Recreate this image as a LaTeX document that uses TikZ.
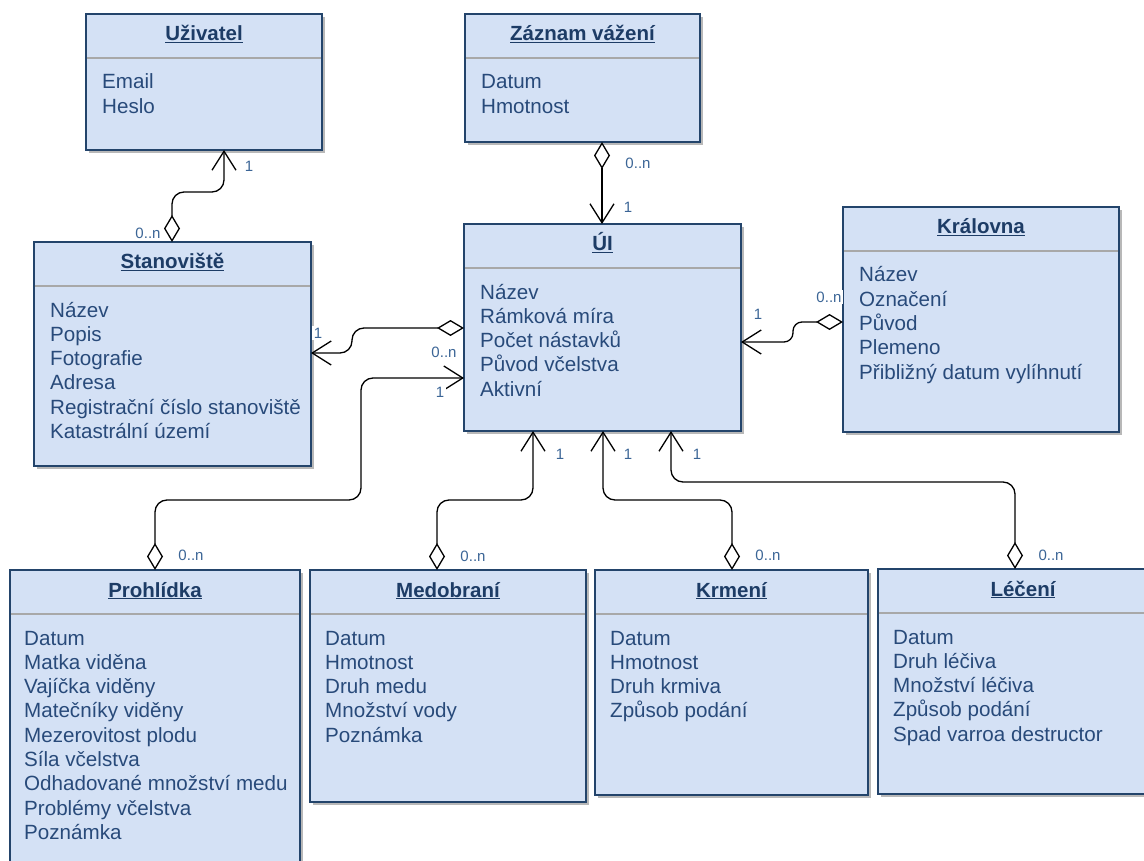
\documentclass[tikz,border=0pt]{standalone}
\usepackage{fontspec}
\setmainfont{Liberation Sans}
\usetikzlibrary{arrows.meta, shadows}
\definecolor{umlfill}{HTML}{D4E1F5}
\definecolor{umlline}{HTML}{23446B}
\definecolor{umlhead}{HTML}{1D3C66}
\definecolor{umltext}{HTML}{284A7A}
\definecolor{multtext}{HTML}{3B6596}
\definecolor{sepgray}{HTML}{A8A8A8}

\begin{document}
\begin{tikzpicture}[x=1pt, y=-1pt,
    umlbox/.style={draw=umlline, line width=1.6pt, fill=umlfill, anchor=north west,
      inner sep=0pt, outer sep=0pt,
      drop shadow={shadow xshift=3pt, shadow yshift=-3pt, fill=black!28, opacity=1}},
    umltitle/.style={anchor=base, inner sep=0pt, text=umlhead,
      font=\fontsize{20.5pt}{24pt}\selectfont\bfseries},
    umlsep/.style={draw=sepgray, line width=1.6pt, shorten <=0.8pt, shorten >=0.8pt},
    umlattr/.style={anchor=base west, inner sep=0pt, text=umltext,
      font=\fontsize{20.6pt}{24pt}\selectfont},
    assoc/.style={line width=1.3pt, rounded corners=12pt,
      arrows={Diamond[fill=white,length=27pt,width=16pt]-Straight Barb[length=19pt,width=24pt]}},
    mult/.style={fill=white, inner sep=1.5pt, text=multtext,
      font=\fontsize{15pt}{18pt}\selectfont}]
    \clip (0,0) rectangle (1144,861);
    \fill[white] (0,0) rectangle (1144,861);

    % classes, top row
    \node[umlbox, minimum width=236pt, minimum height=136pt] (uziv) at (86,14) {};
    \node[umltitle] (uziv-t) at ([yshift=-27pt]uziv.north) {\underline{Uživatel}};
    \draw[umlsep] ([yshift=-44pt]uziv.north west) -- ([yshift=-44pt]uziv.north east);
    \foreach \a [count=\i from 0] in {Email, Heslo}
        \node[umlattr] (uziv-a\i) at ([xshift=16pt, yshift={-75pt-24.3pt*\i}]uziv.north west) {\a};

    \node[umlbox, minimum width=235pt, minimum height=128pt] (zaznam) at (465,14) {};
    \node[umltitle] (zaznam-t) at ([yshift=-27pt]zaznam.north) {\underline{Záznam vážení}};
    \draw[umlsep] ([yshift=-44pt]zaznam.north west) -- ([yshift=-44pt]zaznam.north east);
    \foreach \a [count=\i from 0] in {Datum, Hmotnost}
        \node[umlattr] (zaznam-a\i) at ([xshift=16pt, yshift={-75pt-24.3pt*\i}]zaznam.north west) {\a};

    % classes, middle row
    \node[umlbox, minimum width=277pt, minimum height=224pt] (stan) at (34,242) {};
    \node[umltitle] (stan-t) at ([yshift=-27pt]stan.north) {\underline{Stanoviště}};
    \draw[umlsep] ([yshift=-44pt]stan.north west) -- ([yshift=-44pt]stan.north east);
    \foreach \a [count=\i from 0] in {Název, Popis, Fotografie, Adresa,
            Registrační číslo stanoviště, Katastrální území}
        \node[umlattr] (stan-a\i) at ([xshift=16pt, yshift={-75pt-24.3pt*\i}]stan.north west) {\a};

    \node[umlbox, minimum width=277pt, minimum height=207pt] (ui) at (464,224) {};
    \node[umltitle] (ui-t) at ([yshift=-27pt]ui.north) {\underline{ÚI}};
    \draw[umlsep] ([yshift=-44pt]ui.north west) -- ([yshift=-44pt]ui.north east);
    \foreach \a [count=\i from 0] in {Název, Rámková míra, Počet nástavků,
            Původ včelstva, Aktivní}
        \node[umlattr] (ui-a\i) at ([xshift=16pt, yshift={-75pt-24.3pt*\i}]ui.north west) {\a};

    \node[umlbox, minimum width=276pt, minimum height=225pt] (kral) at (843,207) {};
    \node[umltitle] (kral-t) at ([yshift=-27pt]kral.north) {\underline{Královna}};
    \draw[umlsep] ([yshift=-44pt]kral.north west) -- ([yshift=-44pt]kral.north east);
    \foreach \a [count=\i from 0] in {Název, Označení, Původ, Plemeno,
            Přibližný datum vylíhnutí}
        \node[umlattr] (kral-a\i) at ([xshift=16pt, yshift={-75pt-24.3pt*\i}]kral.north west) {\a};

    % classes, bottom row
    \node[umlbox, minimum width=290pt, minimum height=320pt] (prohl) at (10,570) {};
    \node[umltitle] (prohl-t) at ([yshift=-27pt]prohl.north) {\underline{Prohlídka}};
    \draw[umlsep] ([yshift=-44pt]prohl.north west) -- ([yshift=-44pt]prohl.north east);
    \foreach \a [count=\i from 0] in {Datum, Matka viděna, Vajíčka viděny,
            Matečníky viděny, Mezerovitost plodu, Síla včelstva,
            Odhadované množství medu, Problémy včelstva, Poznámka}
        \node[umlattr] (prohl-a\i) at ([xshift=14pt, yshift={-75pt-24.3pt*\i}]prohl.north west) {\a};

    \node[umlbox, minimum width=276pt, minimum height=232pt] (medob) at (310,570) {};
    \node[umltitle] (medob-t) at ([yshift=-27pt]medob.north) {\underline{Medobraní}};
    \draw[umlsep] ([yshift=-44pt]medob.north west) -- ([yshift=-44pt]medob.north east);
    \foreach \a [count=\i from 0] in {Datum, Hmotnost, Druh medu,
            Množství vody, Poznámka}
        \node[umlattr] (medob-a\i) at ([xshift=15pt, yshift={-75pt-24.3pt*\i}]medob.north west) {\a};

    \node[umlbox, minimum width=273pt, minimum height=225pt] (krmeni) at (595,570) {};
    \node[umltitle] (krmeni-t) at ([yshift=-27pt]krmeni.north) {\underline{Krmení}};
    \draw[umlsep] ([yshift=-44pt]krmeni.north west) -- ([yshift=-44pt]krmeni.north east);
    \foreach \a [count=\i from 0] in {Datum, Hmotnost, Druh krmiva, Způsob podání}
        \node[umlattr] (krmeni-a\i) at ([xshift=15pt, yshift={-75pt-24.3pt*\i}]krmeni.north west) {\a};

    \node[umlbox, minimum width=290pt, minimum height=225pt] (leceni) at (878,569) {};
    \node[umltitle] (leceni-t) at ([yshift=-27pt]leceni.north) {\underline{Léčení}};
    \draw[umlsep] ([yshift=-44pt]leceni.north west) -- ([yshift=-44pt]leceni.north east);
    \foreach \a [count=\i from 0] in {Datum, Druh léčiva, Množství léčiva,
            Způsob podání, Spad varroa destructor}
        \node[umlattr] (leceni-a\i) at ([xshift=15pt, yshift={-75pt-24.3pt*\i}]leceni.north west) {\a};

    % associations (diamond end -> open arrow end)
    \draw[assoc] ([xshift=138pt]stan.north west) -- ++(0,-50) -| ([xshift=138pt]uziv.south west);
    \draw[assoc] ([xshift=137pt]zaznam.south west) -- ([xshift=138pt]ui.north west);
    \draw[assoc] ([yshift=-104pt]ui.north west) -- ++(-112,0) |- ([yshift=-111pt]stan.north east);
    \draw[assoc, rounded corners=9pt] ([yshift=-115pt]kral.north west) -- ++(-50,0) |- ([yshift=-118pt]ui.north east);
    \draw[assoc] ([xshift=145pt]prohl.north west) -- ++(0,-70) -- ++(206,0) |- ([yshift=-154pt]ui.north west);
    \draw[assoc] ([xshift=127pt]medob.north west) -- ++(0,-70) -| ([xshift=69pt]ui.south west);
    \draw[assoc] ([xshift=137pt]krmeni.north west) -- ++(0,-70) -| ([xshift=139pt]ui.south west);
    \draw[assoc] ([xshift=137pt]leceni.north west) -- ++(0,-87) -| ([xshift=207pt]ui.south west);

    % multiplicities
    \node[mult] (m-uziv) at (249,166) {1};
    \node[mult, inner ysep=3pt] (m-stan) at (148,233) {0..n};
    \node[mult] (m-zaz1) at (638,163) {0..n};
    \node[mult] (m-zaz2) at (628,207) {1};
    \node[mult] (m-stan2) at (318,333) {1};
    \node[mult] (m-ui1) at (444,352) {0..n};
    \node[mult] (m-ui2) at (440,392) {1};
    \node[mult] (m-kral1) at (758,314) {1};
    \node[mult] (m-kral2) at (829,297) {0..n};
    \node[mult] (m-prohl) at (191,555) {0..n};
    \node[mult] (m-medob1) at (560,454) {1};
    \node[mult] (m-medob2) at (473,556) {0..n};
    \node[mult] (m-krmeni1) at (628,454) {1};
    \node[mult] (m-krmeni2) at (768,555) {0..n};
    \node[mult] (m-leceni1) at (697,454) {1};
    \node[mult] (m-leceni2) at (1051,555) {0..n};
\end{tikzpicture}
\end{document}
